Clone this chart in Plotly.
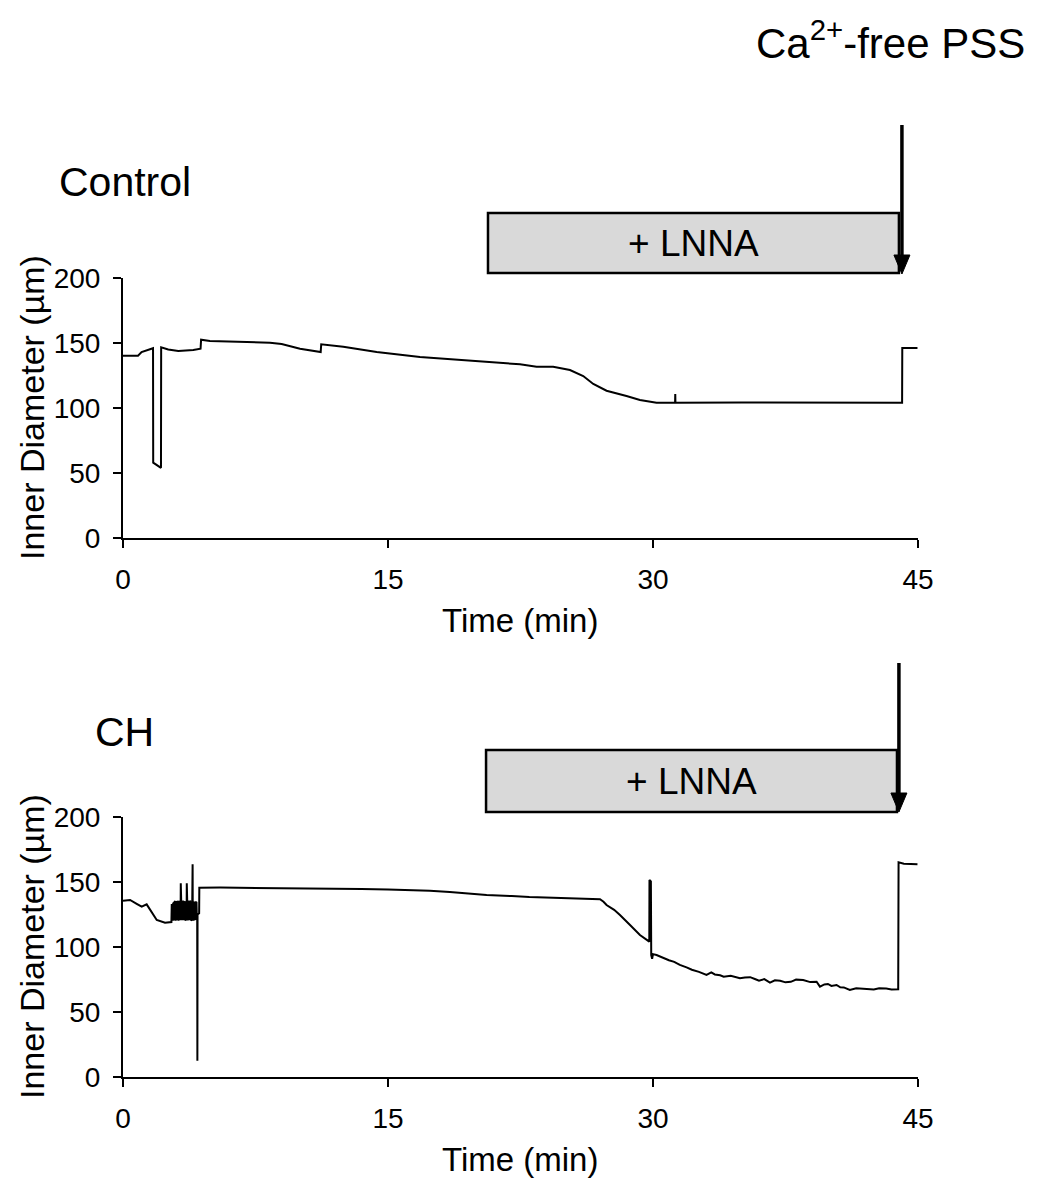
import plotly.graph_objects as go

# ---------------- data ----------------
ctrl_time = [0, 0.85, 1.05, 1.40, 1.70, 1.71, 2.15, 2.16,
             2.56, 3.13, 3.98, 4.39, 4.42, 4.92, 6.81, 8.32,
             8.98, 10.02, 11.19, 11.22, 12.47, 14.36, 16.81, 18.69,
             20.58, 22.47, 23.41, 24.35, 25.30, 26.05, 26.62, 27.37,
             28.50, 29.26, 30.20, 31.25, 31.26, 31.27, 35.0, 40.0,
             44.10, 44.11, 44.97]
ctrl_diam = [140.2, 140.2, 143.0, 144.8, 146.0, 58.0, 54.0, 146.7,
             145.0, 143.8, 144.6, 145.6, 152.5, 151.5, 150.8, 150.2,
             149.2, 145.6, 143.1, 149.0, 147.2, 143.1, 139.2, 137.4,
             135.4, 133.6, 131.8, 131.8, 129.2, 124.6, 118.5, 113.3,
             109.2, 106.2, 104.1, 104.1, 110.8, 104.1, 104.3, 104.1,
             104.1, 146.2, 146.2]

# CH: baseline before the burst
ch_pre_time = [0, 0.40, 0.80, 1.06, 1.34, 1.53, 1.91, 2.38, 2.74]
ch_pre_diam = [135.6, 136.2, 133.0, 131.0, 132.8, 128.5, 120.8, 118.7, 119.2]

# CH: oscillating burst
ch_burst_time = [2.76, 2.78, 2.80, 2.82, 2.84, 2.86, 2.88, 2.90,
                 2.92, 2.94, 2.96, 2.98, 3.00, 3.02, 3.04, 3.06,
                 3.08, 3.10, 3.12, 3.14, 3.16, 3.18, 3.20, 3.22,
                 3.24, 3.26, 3.27, 3.28, 3.30, 3.32, 3.34, 3.36,
                 3.38, 3.40, 3.42, 3.44, 3.46, 3.48, 3.50, 3.52,
                 3.54, 3.56, 3.58, 3.60, 3.61, 3.62, 3.64, 3.66,
                 3.68, 3.70, 3.72, 3.74, 3.76, 3.78, 3.80, 3.82,
                 3.84, 3.86, 3.88, 3.90, 3.92, 3.94, 3.95, 3.96,
                 3.98, 4.00, 4.02, 4.04, 4.06, 4.08, 4.10, 4.12,
                 4.14, 4.16, 4.18, 4.20, 4.21, 4.22, 4.31, 4.32]
ch_burst_diam = [133.0, 120.5, 132.0, 120.2, 133.5, 121.0, 134.0, 120.4,
                 134.8, 120.8, 135.2, 120.3, 134.6, 121.0, 135.0, 120.5,
                 134.7, 120.9, 135.1, 120.2, 134.8, 121.0, 135.3, 120.6,
                 134.9, 121.0, 149.0, 121.5, 135.0, 120.6, 134.9, 121.2,
                 135.3, 120.5, 134.7, 121.0, 135.2, 120.7, 135.0, 120.4,
                 134.8, 121.1, 135.4, 120.6, 149.0, 121.3, 135.2, 120.4,
                 134.8, 121.1, 135.4, 120.6, 134.9, 121.4, 135.0, 120.8,
                 135.1, 120.3, 134.6, 121.2, 135.0, 163.6, 120.8, 135.1,
                 120.3, 134.6, 121.2, 135.0, 121.5, 134.7, 120.9, 135.2,
                 121.0, 134.8, 121.3, 124.0, 12.5, 125.0, 126.0, 145.6]

# CH: rest of the recording
ch_post_time = [5.5, 7.0, 9.0, 10.58, 12.0, 13.5, 15.0, 16.0,
                17.37, 18.5, 19.5, 20.58, 22.0, 23.0, 24.35, 25.5,
                27.00, 27.20, 27.37, 27.8, 28.13, 28.70, 29.26, 29.79,
                29.80, 29.88, 29.90, 29.95, 30.00, 30.2, 30.39, 30.7,
                30.9, 31.2, 31.52, 31.9, 32.2, 32.6, 33.03, 33.3,
                33.5, 33.8, 34.0, 34.4, 34.92, 35.2, 35.5, 35.8,
                36.0, 36.3, 36.62, 36.9, 37.2, 37.5, 37.8, 38.1,
                38.50, 38.9, 39.26, 39.45, 39.7, 39.9, 40.1, 40.39,
                40.6, 40.8, 41.14, 41.5, 41.8, 42.1, 42.5, 42.8,
                43.2, 43.5, 43.88, 43.90, 44.20, 44.97]
ch_post_diam = [145.7, 145.6, 145.4, 145.1, 145.0, 144.6, 144.2, 143.9,
                143.3, 142.4, 141.2, 140.0, 139.2, 138.4, 137.9, 137.5,
                136.7, 134.8, 132.3, 128.6, 124.6, 116.9, 109.2, 104.1,
                151.5, 150.5, 93.8, 91.0, 94.5, 93.8, 92.6, 91.2,
                89.8, 88.6, 86.2, 84.3, 82.5, 80.9, 78.5, 80.4,
                78.9, 78.2, 77.2, 77.9, 75.9, 76.6, 76.8, 75.2,
                74.1, 75.3, 72.6, 74.4, 74.0, 72.8, 73.2, 74.9,
                74.6, 73.0, 73.3, 69.5, 71.2, 71.6, 70.1, 70.8,
                69.0, 68.9, 66.9, 68.3, 68.0, 67.2, 67.3, 68.2,
                68.1, 67.4, 67.5, 165.1, 164.0, 163.6]

ch_time = ch_pre_time + ch_burst_time + ch_post_time
ch_diam = ch_pre_diam + ch_burst_diam + ch_post_diam

x_ticks = [0, 15, 30, 45]
y_ticks = [0, 50, 100, 150, 200]
panel_labels = ["Control", "CH"]
lnna_start = [20.66, 20.55]
lnna_end = [43.92, 43.81]
ca_free_time = [44.09, 43.92]

# ---------------- layout helpers ----------------
W, H = 1040, 1178
FONT = "Liberation Sans, Arial, sans-serif"


def px(x):
    return x / W


def py(y):
    return 1 - y / H


XDOM = [px(123), px(918)]
YDOM_TOP = [py(538), py(278)]
YDOM_BOT = [py(1077), py(817)]


def t2paper(t):
    return XDOM[0] + t / 45 * (XDOM[1] - XDOM[0])


fig = go.Figure()
fig.add_trace(go.Scatter(x=ctrl_time, y=ctrl_diam, mode="lines",
                         line=dict(color="black", width=2), xaxis="x", yaxis="y",
                         showlegend=False, hoverinfo="skip"))
fig.add_trace(go.Scatter(x=ch_time, y=ch_diam, mode="lines",
                         line=dict(color="black", width=2), xaxis="x2", yaxis="y2",
                         showlegend=False, hoverinfo="skip"))

axis_common = dict(showline=True, linecolor="black", linewidth=2, ticks="outside",
                   ticklen=8, tickwidth=2, tickcolor="black", showgrid=False,
                   zeroline=False, automargin=False, ticklabelstandoff=7,
                   tickfont=dict(family=FONT, size=28, color="black"))

fig.update_layout(
    width=W, height=H,
    margin=dict(l=0, r=0, t=0, b=0),
    paper_bgcolor="white", plot_bgcolor="white",
    font=dict(family=FONT, color="black"),
    xaxis=dict(domain=XDOM, range=[0, 45], tickvals=x_ticks, anchor="y", **axis_common),
    yaxis=dict(domain=YDOM_TOP, range=[0, 200], tickvals=y_ticks, anchor="x", **axis_common),
    xaxis2=dict(domain=XDOM, range=[0, 45], tickvals=x_ticks, anchor="y2", **axis_common),
    yaxis2=dict(domain=YDOM_BOT, range=[0, 200], tickvals=y_ticks, anchor="x2", **axis_common),
)

shapes = []
annotations = []
panels = [
    dict(box=(213, 273), arrow=(125, 274), label_y=182, label_x=57, axis_y=538, ycenter=408),
    dict(box=(750, 812), arrow=(663, 812), label_y=732, label_x=93, axis_y=1077, ycenter=947),
]
HEAD_W, HEAD_H = 8 / W, 19 / H  # arrowhead half-width and length (paper units)
for i, p in enumerate(panels):
    bx0, bx1 = t2paper(lnna_start[i]), t2paper(lnna_end[i])
    shapes.append(dict(type="rect", xref="paper", yref="paper",
                       x0=bx0, x1=bx1, y0=py(p["box"][1]), y1=py(p["box"][0]),
                       fillcolor="#d9d9d9", line=dict(color="black", width=2.5), layer="below"))
    annotations.append(dict(text="+ LNNA", xref="paper", yref="paper",
                            x=(bx0 + bx1) / 2, y=py((p["box"][0] + p["box"][1]) / 2),
                            xanchor="center", yanchor="middle", showarrow=False,
                            font=dict(family=FONT, size=37, color="black")))
    # Ca2+-free PSS arrow: shaft + filled head
    ax_x = t2paper(ca_free_time[i])
    tip_y = py(p["arrow"][1])
    top_y = py(p["arrow"][0])
    shapes.append(dict(type="line", xref="paper", yref="paper",
                       x0=ax_x, x1=ax_x, y0=top_y, y1=tip_y + HEAD_H * 0.6,
                       line=dict(color="black", width=3.5)))
    shapes.append(dict(type="path", xref="paper", yref="paper",
                       path=(f"M {ax_x - HEAD_W} {tip_y + HEAD_H} L {ax_x + HEAD_W} {tip_y + HEAD_H} "
                             f"L {ax_x} {tip_y} Z"),
                       fillcolor="black", line=dict(color="black", width=1)))
    annotations.append(dict(text=panel_labels[i], xref="paper", yref="paper",
                            x=px(p["label_x"]), y=py(p["label_y"]), xanchor="left",
                            yanchor="middle", showarrow=False,
                            font=dict(family=FONT, size=41, color="black")))
    annotations.append(dict(text="Time (min)", xref="paper", yref="paper",
                            x=px(520), y=py(p["axis_y"] + 82), xanchor="center",
                            yanchor="middle", showarrow=False,
                            font=dict(family=FONT, size=33, color="black")))
    annotations.append(dict(text="Inner Diameter (\u00b5m)", xref="paper", yref="paper",
                            x=px(32), y=py(p["ycenter"]), xanchor="center",
                            yanchor="middle", textangle=-90, showarrow=False,
                            font=dict(family=FONT, size=34, color="black")))

annotations.append(dict(text="Ca<sup>2+</sup>-free PSS", xref="paper", yref="paper",
                        x=px(1027), y=py(40), xanchor="right", yanchor="middle",
                        showarrow=False, font=dict(family=FONT, size=42, color="black")))

fig.update_layout(shapes=shapes, annotations=annotations)
# remove the browser's default 8px page margin so the figure fills the window exactly
fig.write_html("out.html", config={"displayModeBar": False},
               post_script="document.body.style.margin='0';")
